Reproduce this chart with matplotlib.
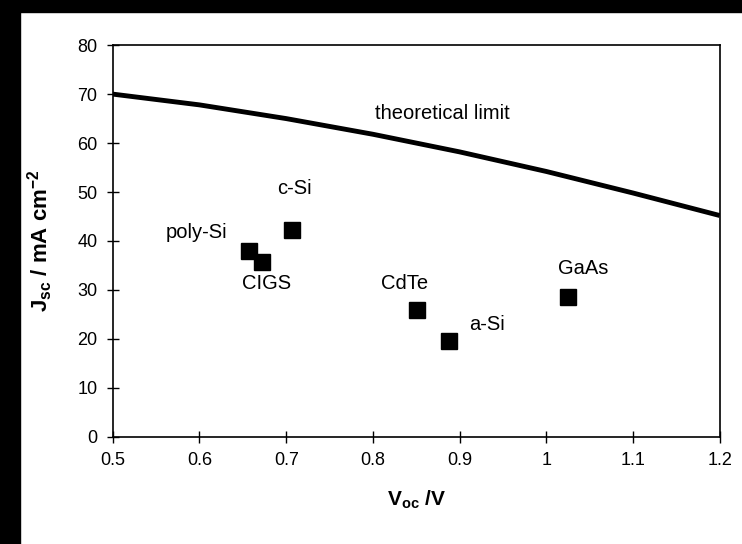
import numpy as np
import matplotlib.pyplot as plt
from matplotlib.patches import Rectangle

plt.rcParams['font.family'] = ['Liberation Sans', 'DejaVu Sans']
plt.rcParams['mathtext.fontset'] = 'custom'
plt.rcParams['mathtext.rm'] = 'Liberation Sans'
plt.rcParams['mathtext.bf'] = 'Liberation Sans:bold'
plt.rcParams['mathtext.it'] = 'Liberation Sans:italic'

# theoretical limit curve
limit_v = [0.5, 0.6, 0.7, 0.8, 0.9, 1.0, 1.1, 1.2]
limit_j = [70, 67.8, 65.0, 61.8, 58.2, 54.2, 49.8, 45.2]

# cells
cells = ["poly-Si", "CIGS", "c-Si", "CdTe", "a-Si", "GaAs"]
voc = [0.657, 0.672, 0.707, 0.851, 0.888, 1.025]
jsc = [38.0, 35.7, 42.3, 26.0, 19.5, 28.5]
label_x = [0.597, 0.677, 0.71, 0.837, 0.932, 1.043]
label_y = [41.8, 31.4, 50.8, 31.4, 22.9, 34.3]

fig = plt.figure(figsize=(7.42, 5.44), dpi=100)
ax = fig.add_axes([0.152, 0.197, 0.818, 0.720])

ax.plot(limit_v, limit_j, color='black', lw=3.5, solid_capstyle='butt')
ax.plot(voc, jsc, 's', color='black', markersize=11, linestyle='none')
for name, x, y in zip(cells, label_x, label_y):
    ax.text(x, y, name, ha='center', va='center', fontsize=14.5)
ax.text(0.88, 66, "theoretical limit", ha='center', va='center', fontsize=14.5)

ax.set_xlim(0.5, 1.2)
ax.set_ylim(0, 80)
ax.set_xticks([0.5, 0.6, 0.7, 0.8, 0.9, 1.0, 1.1, 1.2])
ax.set_xticklabels(["0.5", "0.6", "0.7", "0.8", "0.9", "1", "1.1", "1.2"])
ax.set_yticks(range(0, 81, 10))
ax.tick_params(direction='inout', length=8, width=1, labelsize=13, pad=7)
for s in ax.spines.values():
    s.set_linewidth(1.2)

ax.set_xlabel(r"$\mathbf{V_{oc}}$ /V", fontsize=15, fontweight='bold', labelpad=14)
ax.set_ylabel(r"$\mathbf{J_{sc}}$ / mA cm$^{\mathbf{-2}}$", fontsize=16, fontweight='bold', labelpad=16)

# black scan border on the left and top
fig.patches.append(Rectangle((0, 0), 0.027, 1, transform=fig.transFigure, color='black', zorder=0))
fig.patches.append(Rectangle((0, 0.978), 1, 0.022, transform=fig.transFigure, color='black', zorder=0))

fig.savefig("out.png", dpi=100)
